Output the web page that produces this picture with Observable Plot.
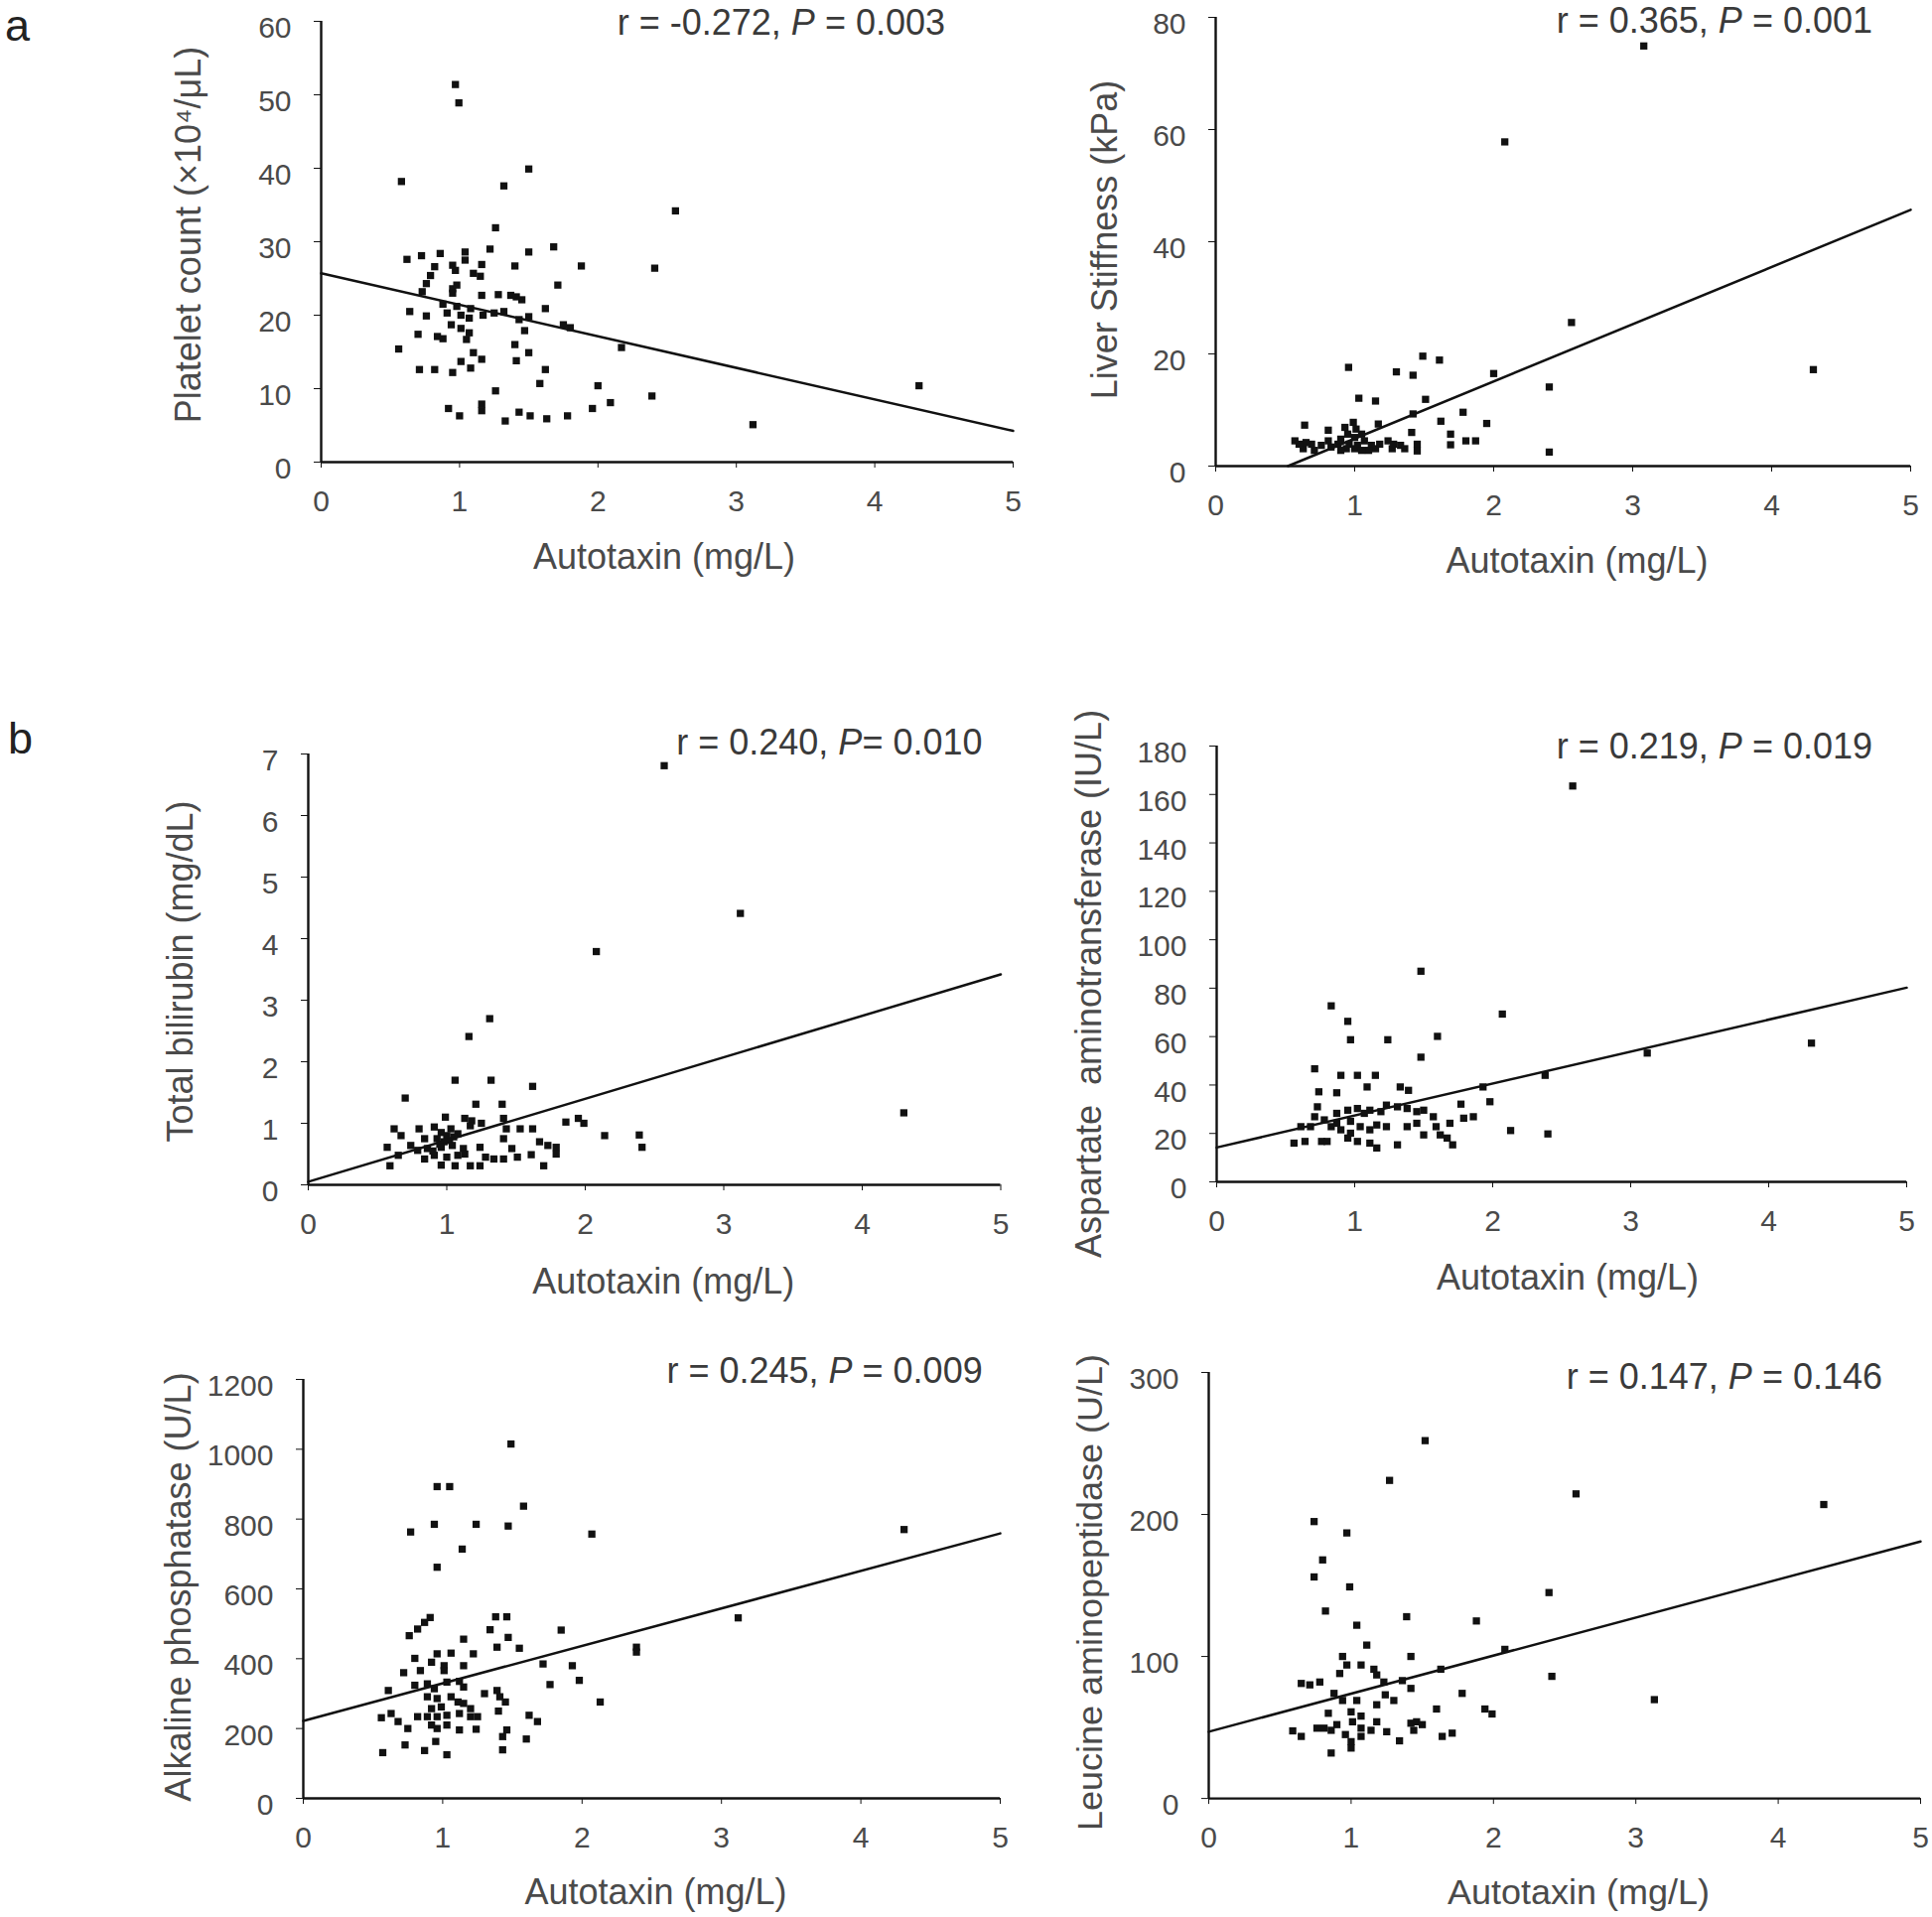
<!DOCTYPE html>
<html><head><meta charset="utf-8">
<script src="https://cdn.jsdelivr.net/npm/d3@7"></script>
<script src="https://cdn.jsdelivr.net/npm/@observablehq/plot@0.6"></script>
<style>
body{margin:0;background:#fff;}
#page{position:relative;width:1946px;height:1931px;overflow:hidden;background:#fff;font-family:"Liberation Sans",Arial,sans-serif;}
.panel{position:absolute;}
.note{position:absolute;font-size:36px;color:#3a3a3a;white-space:nowrap;transform:translate(-100%,-50%);line-height:1.2;}
.tag{position:absolute;font-size:45px;line-height:52px;color:#222;}
</style></head><body><div id="page"></div>
<script>
// ---------- data (Autotaxin mg/L on x) ----------
const xTicks = [0, 1, 2, 3, 4, 5];

const plateletPts = [[0.58,38.2],[1.50,39.9],[1.32,37.6],[1.26,31.9],[1.22,29.0],[1.50,28.6],[1.68,29.3],[1.88,26.7],[1.40,26.7],[1.71,24.1],[2.41,26.4],[0.62,27.6],[0.725,28.1],[0.86,28.4],[1.04,28.6],[1.04,27.5],[1.16,26.9],[0.95,26.8],[0.97,26.1],[0.82,26.6],[0.79,25.4],[0.76,24.3],[0.73,23.2],[1.15,25.3],[1.10,25.7],[0.95,23.6],[0.98,24.1],[0.95,23.0],[1.16,22.7],[1.28,22.8],[1.37,22.7],[1.41,22.5],[1.45,22.1],[0.88,21.5],[0.98,21.2],[1.08,20.9],[1.17,20.0],[1.25,20.3],[1.32,20.5],[1.62,20.9],[1.50,19.8],[1.43,19.4],[1.47,17.9],[0.64,20.5],[0.76,19.9],[0.91,20.3],[1.01,20.0],[1.07,19.6],[0.94,18.7],[1.01,18.2],[1.07,17.6],[0.84,17.1],[0.88,16.8],[1.05,16.7],[0.70,17.4],[1.75,18.7],[1.80,18.3],[2.17,15.6],[0.56,15.4],[1.40,16.0],[1.50,14.9],[1.41,13.8],[1.10,14.9],[1.16,14.0],[1.01,13.7],[1.08,12.8],[0.95,12.2],[0.71,12.6],[0.82,12.6],[1.62,12.6],[1.58,10.7],[1.26,9.7],[2.0,10.4],[2.09,8.1],[2.39,9.0],[1.96,7.3],[1.78,6.3],[1.63,5.9],[1.51,6.3],[1.43,6.8],[1.33,5.6],[1.16,7.9],[1.16,7.0],[0.92,7.3],[1.00,6.3],[0.97,51.4],[0.995,48.9],[2.56,34.2],[4.32,10.4],[3.12,5.1]];
const plateletFitX = [0, 5];
const plateletFitY = [25.7, 4.25];
const plateletTicks = [0, 10, 20, 30, 40, 50, 60];

const stiffnessPts = [[0.956,17.6],[1.30,16.8],[1.42,16.2],[1.49,19.6],[1.61,18.9],[2.0,16.5],[2.40,14.1],[2.40,2.5],[1.03,12.1],[1.15,11.6],[1.51,11.9],[1.42,9.3],[1.78,9.6],[1.62,8.0],[1.95,7.6],[1.41,6.0],[1.69,5.7],[1.69,3.8],[1.80,4.5],[1.87,4.5],[1.45,3.9],[1.45,2.7],[0.64,7.3],[0.81,6.4],[0.57,4.5],[1.17,7.5],[0.93,6.9],[0.99,7.8],[1.01,6.6],[0.95,5.7],[1.00,5.1],[1.05,5.7],[0.90,4.8],[0.96,3.9],[1.02,3.7],[1.07,4.5],[0.94,3.1],[1.00,3.1],[0.88,3.9],[0.81,4.5],[0.76,3.7],[0.69,3.9],[0.63,3.1],[0.71,2.8],[0.83,3.4],[1.12,3.7],[1.15,3.1],[1.24,4.5],[1.28,3.9],[1.33,3.7],[1.27,3.1],[1.36,3.1],[1.18,3.9],[1.10,2.8],[0.90,2.8],[1.05,2.8],[0.65,4.2],[0.60,3.9],[3.08,74.9],[2.08,57.8],[2.56,25.6],[4.30,17.2]];
const stiffnessFitX = [0.52, 5];
const stiffnessFitY = [0, 45.7];
const stiffnessTicks = [0, 20, 40, 60, 80];

const bilirubinPts = [[1.31,2.70],[1.16,2.41],[1.06,1.70],[1.32,1.70],[1.62,1.60],[0.70,1.41],[1.21,1.31],[1.40,1.31],[0.99,1.10],[1.13,1.08],[1.18,1.04],[1.41,1.08],[1.25,1.0],[1.86,1.02],[1.95,1.08],[1.99,1.0],[2.14,0.80],[2.39,0.81],[2.41,0.61],[0.62,0.91],[0.80,0.91],[0.91,0.94],[0.96,0.85],[1.03,0.91],[1.08,0.83],[1.43,0.91],[1.53,0.91],[1.62,0.91],[0.67,0.80],[0.93,0.75],[1.02,0.72],[1.41,0.75],[1.67,0.70],[1.73,0.64],[1.79,0.61],[0.57,0.61],[0.74,0.64],[0.79,0.56],[0.86,0.59],[0.96,0.61],[1.04,0.64],[1.12,0.59],[1.24,0.61],[1.47,0.59],[0.65,0.48],[0.84,0.42],[0.91,0.48],[1.00,0.45],[1.08,0.48],[1.13,0.50],[1.28,0.45],[1.34,0.42],[1.41,0.42],[1.51,0.45],[1.61,0.49],[1.79,0.50],[0.59,0.31],[0.96,0.32],[1.06,0.31],[1.17,0.31],[1.24,0.31],[1.70,0.31],[1.0,0.80],[0.84,0.75],[1.17,0.96],[0.98,0.70],[1.05,0.78],[0.90,0.55],[0.95,0.66],[2.57,6.81],[3.12,4.41],[2.08,3.79],[4.30,1.17]];
const bilirubinFitX = [0, 5];
const bilirubinFitY = [0.05, 3.42];
const bilirubinTicks = [0, 1, 2, 3, 4, 5, 6, 7];

const astPts = [[1.48,87.0],[0.83,72.7],[0.95,66.3],[0.97,58.7],[1.24,58.7],[1.60,60.1],[1.48,51.5],[2.07,69.3],[0.71,46.7],[0.90,44.0],[1.02,44.0],[1.15,44.0],[1.09,39.2],[1.33,39.2],[1.39,37.8],[0.74,37.2],[0.87,36.8],[1.93,39.2],[2.38,44.0],[1.77,32.1],[1.98,33.1],[2.13,21.2],[2.40,19.8],[1.31,15.3],[1.71,15.3],[0.73,31.0],[0.71,26.9],[0.78,25.6],[0.87,28.3],[0.95,29.6],[1.02,30.3],[1.07,28.3],[1.11,29.6],[1.19,29.0],[1.23,31.7],[1.31,31.0],[1.38,30.3],[1.45,29.0],[1.50,29.6],[1.57,26.9],[0.68,22.8],[0.83,22.8],[0.90,21.5],[0.97,20.1],[1.04,22.8],[1.11,21.5],[1.16,23.5],[1.23,22.8],[1.38,22.8],[1.45,24.2],[1.50,19.4],[1.59,22.8],[1.69,24.2],[1.79,26.3],[1.86,26.9],[0.61,22.8],[0.56,16.0],[0.64,16.7],[0.76,16.7],[0.80,16.7],[0.95,18.1],[1.02,16.7],[1.11,16.0],[1.16,14.0],[1.62,19.4],[1.67,18.1],[0.87,24.2],[0.97,25.0],[2.58,163.5],[3.12,53.2],[4.31,57.3]];
const astFitX = [0, 5];
const astFitY = [14.2, 80.2];
const astTicks = [0, 20, 40, 60, 80, 100, 120, 140, 160, 180];

const alpPts = [[1.58,837],[0.94,785],[1.24,785],[1.47,780],[0.77,763],[2.07,757],[1.14,714],[0.96,662],[0.91,518],[0.87,504],[0.82,485],[0.76,466],[1.38,520],[1.46,520],[1.34,483],[1.47,461],[1.39,433],[1.55,430],[1.85,482],[1.15,456],[2.39,433],[2.39,419],[0.80,401],[0.92,390],[0.96,414],[1.06,416],[1.22,414],[1.01,380],[1.01,366],[1.15,380],[1.72,385],[1.93,380],[0.72,360],[0.84,366],[1.77,326],[1.98,338],[0.61,309],[0.80,324],[0.89,328],[0.94,314],[1.03,333],[1.12,335],[1.15,319],[2.13,276],[0.89,291],[0.96,286],[1.06,291],[1.11,276],[1.15,272],[1.30,300],[1.39,309],[1.41,291],[1.45,276],[0.92,257],[0.99,262],[1.20,257],[0.89,234],[0.96,234],[1.03,238],[1.12,243],[1.20,234],[1.25,234],[1.40,250],[1.62,238],[1.68,220],[0.56,231],[0.63,243],[0.68,220],[0.75,200],[0.82,234],[0.92,210],[0.96,200],[1.03,210],[1.12,196],[1.24,198],[1.46,196],[1.43,177],[1.60,170],[0.73,153],[0.95,163],[0.57,131],[0.87,137],[1.03,125],[1.43,139],[1.49,1015],[0.96,893],[1.05,893],[4.31,770],[3.12,517]];
const alpFitX = [0, 5];
const alpFitY = [222, 759];
const alpTicks = [0, 200, 400, 600, 800, 1000, 1200];

const lapPts = [[0.80,168],[0.74,156],[0.99,149],[0.82,132],[1.39,128],[1.88,125],[2.39,145],[1.04,122],[1.11,108],[0.94,100],[0.97,94],[1.07,94],[1.42,100],[2.08,105],[1.63,91],[0.92,88],[1.16,91],[1.18,87],[0.65,81],[0.71,80],[0.78,82],[1.23,82],[1.36,83],[1.42,77.5],[2.41,86],[0.88,74],[1.24,73],[0.94,69],[1.04,69],[1.30,69],[1.78,74],[1.18,66],[1.60,63],[1.94,63],[1.99,59.5],[0.84,60],[1.00,61],[1.07,58],[1.18,54],[0.81,49.5],[0.90,52],[1.01,54],[1.07,49.5],[1.14,48],[1.42,53],[1.46,54],[1.44,48],[1.50,52],[1.25,47],[0.59,47.6],[0.65,43.7],[0.86,48],[0.96,45],[1.00,40],[1.07,43.7],[1.34,40.6],[1.64,43.7],[1.71,46],[1.00,35.5],[0.86,32],[0.76,49.5],[1.52,252],[1.27,224],[2.58,214.5],[4.32,207],[0.74,195],[0.97,187],[3.13,69.6]];
const lapFitX = [0, 5];
const lapFitY = [47, 181];
const lapTicks = [0, 100, 200, 300];

const xTitle = "Autotaxin (mg/L)";
const yTitles = ["Platelet count (×10⁴/μL)", "Liver Stiffness (kPa)", "Total bilirubin (mg/dL)",
  "Aspartate  aminotransferase (IU/L)", "Alkaline phosphatase (U/L)", "Leucine aminopeptidase (U/L)"];
const stats = [["r = -0.272, ", "P", " = 0.003"], ["r = 0.365, ", "P", " = 0.001"], ["r = 0.240, ", "P", "= 0.010"],
  ["r = 0.219, ", "P", " = 0.019"], ["r = 0.245, ", "P", " = 0.009"], ["r = 0.147, ", "P", " = 0.146"]];

// ---------- layout ----------
const panels = [
  {pts: plateletPts, fx: plateletFitX, fy: plateletFitY, ticks: plateletTicks, frame: [323, 1020, 21, 465], yt: [-133, -7], xt: [-3, 96], note: [-68, 2]},
  {pts: stiffnessPts, fx: stiffnessFitX, fy: stiffnessFitY, ticks: stiffnessTicks, frame: [1224, 1924, 17, 469], yt: [-111, -2], xt: [14, 96], note: [-38, 4]},
  {pts: bilirubinPts, fx: bilirubinFitX, fy: bilirubinFitY, ticks: bilirubinTicks, frame: [310, 1007.5, 759, 1193], yt: [-128, 2], xt: [9, 98], note: [-18, -11]},
  {pts: astPts, fx: astFitX, fy: astFitY, ticks: astTicks, frame: [1225, 1920, 751, 1190], yt: [-128, 20], xt: [6, 97], note: [-34, 1]},
  {pts: alpPts, fx: alpFitX, fy: alpFitY, ticks: alpTicks, frame: [304.7, 1006.7, 1388.5, 1810.5], yt: [-125, -2], xt: [4, 95], note: [-17, -8]},
  {pts: lapPts, fx: lapFitX, fy: lapFitY, ticks: lapTicks, frame: [1217, 1934, 1381.7, 1810.8], yt: [-119, 7], xt: [14, 95], note: [-38, 5]}
];

const page = document.getElementById("page");
const FONT = '"Liberation Sans", Arial, sans-serif';
const TXT = "#4a4a4a", INK = "#111";

panels.forEach((p, i) => {
  const [L, R, T, B] = p.frame;
  const ML = 175, MR = 32, MT = 50, MB = 130;
  const yMax = p.ticks[p.ticks.length - 1];
  const dots = p.pts.map(([x, y]) => ({x, y}));
  const fit = p.fx.map((x, k) => ({x, y: p.fy[k]}));
  const svg = Plot.plot({
    width: ML + (R - L) + MR, height: MT + (B - T) + MB,
    marginLeft: ML, marginRight: MR, marginTop: MT, marginBottom: MB,
    style: {fontFamily: FONT, fontSize: "30px", color: TXT, background: "transparent", overflow: "visible"},
    x: {domain: [0, 5]},
    y: {domain: [0, yMax]},
    marks: [
      Plot.axisX({ticks: xTicks, tickSize: 6, tickPadding: 22, stroke: INK, fill: TXT, label: null, tickFormat: d => String(d)}),
      Plot.axisY({ticks: p.ticks, tickSize: 7, stroke: INK, fill: "none", label: null}),
      Plot.axisY({ticks: p.ticks, tickSize: 0, tickPadding: 30, dy: 7, fill: TXT, label: null, tickFormat: d => String(d)}),
      Plot.ruleY([0], {x1: 0, x2: 5, stroke: INK, strokeWidth: 2.4}),
      Plot.ruleX([0], {y1: 0, y2: yMax, stroke: INK, strokeWidth: 2.4}),
      Plot.dot(dots, {x: "x", y: "y", symbol: "square", r: 4.1, fill: INK, stroke: "none"}),
      Plot.line(fit, {x: "x", y: "y", stroke: INK, strokeWidth: 2.5}),
      Plot.text([xTitle], {text: d => d, frameAnchor: "bottom", textAnchor: "middle", lineAnchor: "middle", dx: p.xt[0], dy: p.xt[1], fontSize: 36, fill: TXT}),
      Plot.text([yTitles[i]], {text: d => d, frameAnchor: "left", textAnchor: "middle", lineAnchor: "middle", rotate: -90, dx: p.yt[0], dy: p.yt[1], fontSize: 36, fill: TXT})
    ]
  });
  svg.classList.add("panel");
  svg.style.left = (L - ML) + "px";
  svg.style.top = (T - MT) + "px";
  page.appendChild(svg);

  const note = document.createElement("div");
  note.className = "note";
  note.style.left = (R + p.note[0]) + "px";
  note.style.top = (T + p.note[1]) + "px";
  const [a, b, c] = stats[i];
  note.append(a);
  const it = document.createElement("i");
  it.textContent = b;
  note.append(it, c);
  page.appendChild(note);
});

[["a", 5, 0], ["b", 8, 718]].forEach(([t, x, y]) => {
  const d = document.createElement("div");
  d.className = "tag";
  d.textContent = t;
  d.style.left = x + "px";
  d.style.top = y + "px";
  page.appendChild(d);
});
</script></body></html>
